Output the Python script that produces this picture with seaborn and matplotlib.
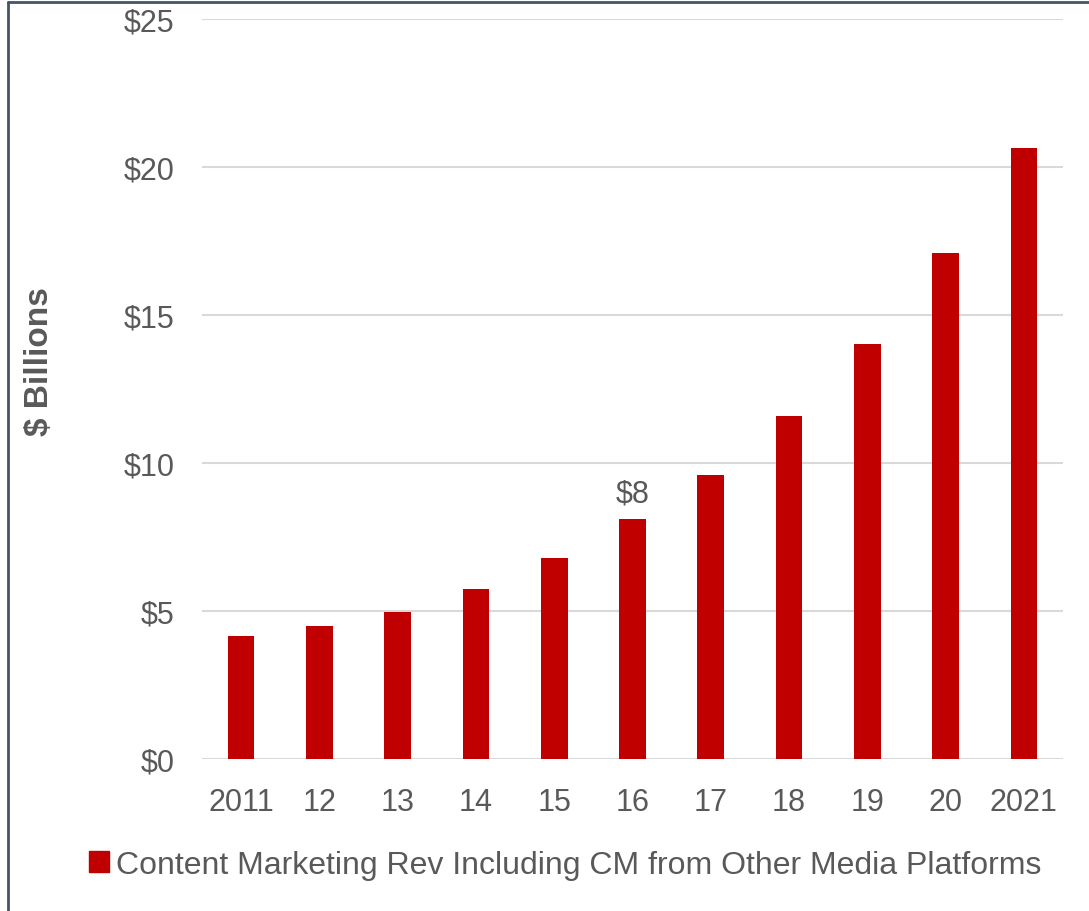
import matplotlib
matplotlib.use("Agg")
import matplotlib.pyplot as plt
import seaborn as sns
import pandas as pd
from matplotlib.lines import Line2D
from matplotlib.patches import Patch

years = ["2011", "12", "13", "14", "15", "16", "17", "18", "19", "20", "2021"]
revenue = [4.15, 4.49, 4.97, 5.74, 6.79, 8.1, 9.59, 11.59, 14.02, 17.09, 20.64]
yticks = [0, 5, 10, 15, 20, 25]
ytick_labels = ["$0", "$5", "$10", "$15", "$20", "$25"]
series_name = "Content Marketing Rev Including CM from Other Media Platforms"
annot_label = "$8"
annot_index = 5

sns.set_theme(style="white")
plt.rcParams["font.family"] = ["Liberation Sans", "DejaVu Sans"]

df = pd.DataFrame({"year": years, "rev": revenue})

fig = plt.figure(figsize=(10.89, 9.12), dpi=100)
ax = fig.add_axes([202 / 1089, 1 - 760 / 912, (1063 - 202) / 1089, (760 - 20) / 912])

gray = "#595959"
red = "#C00000"

sns.barplot(data=df, x="year", y="rev", color=red, width=0.34, ax=ax,
            saturation=1, edgecolor=red, linewidth=0, zorder=3)

ax.set_ylim(0, 25)
ax.set_yticks(yticks)
ax.set_yticklabels(ytick_labels)
ax.yaxis.grid(True, color="#D9D9D9", linewidth=1.5, zorder=0)
ax.set_axisbelow(True)
ax.tick_params(axis="both", length=0, labelsize=22, labelcolor=gray)
ax.tick_params(axis="y", pad=20)
ax.tick_params(axis="x", pad=20)
for s in ax.spines.values():
    s.set_visible(False)
ax.set_xlabel("")
ax.set_ylabel("")
ax.set_xlim(-0.5, len(years) - 0.5)

fig.text(40 / 1089, 1 - 362 / 912, "$ Billions", rotation=90, ha="center", va="center",
         fontsize=24, fontweight="bold", color=gray)

ax.text(annot_index, revenue[annot_index] + 0.35, annot_label, ha="center", va="bottom",
        fontsize=22, color=gray)

handles = [Patch(facecolor=red, edgecolor=red)]
fig.legend(handles, [series_name], loc="center", bbox_to_anchor=(565 / 1089, 1 - 866 / 912),
           frameon=False, fontsize=23, labelcolor=gray, handlelength=0.65, handleheight=0.65,
           handletextpad=0.2)

# outer frame (left and top edges visible)
fig.add_artist(Line2D([7.5 / 1089, 7.5 / 1089], [0, 1 - 2.5 / 912], transform=fig.transFigure,
                      color="#44546A", linewidth=2))
fig.add_artist(Line2D([7.5 / 1089, 1], [1 - 2.5 / 912, 1 - 2.5 / 912], transform=fig.transFigure,
                      color="#44546A", linewidth=2))

fig.savefig("out.png", dpi=100)
